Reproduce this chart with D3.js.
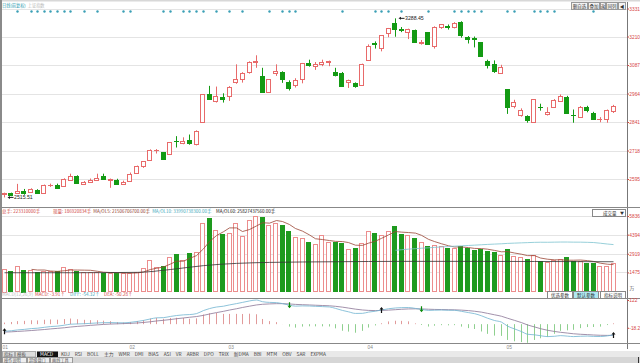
<!DOCTYPE html>
<meta charset="utf-8">
<style>
  html, body { margin: 0; padding: 0; background: #fff; }
  svg text { font-family: "Noto Sans CJK SC", "Noto Sans", sans-serif; }
  svg .num { font-family: "Liberation Sans", Arial, sans-serif; }
</style>
<script src="https://d3js.org/d3.v7.min.js"></script>
<div id="chart"></div>
<script>
// daily candles, 2019-01-07 .. 2019-05-28
const open  = [2528,2534,2535,2544,2540,2548,2536,2568,2570,2565,2594,2609,2574,2581,2592,2609,2590,2592,2576,
               2589,2621,2651,2677,2718,2711,2702,2757,2754,2762,2750,2838,2961,2934,2951,
               2954,3015,3028,3060,3103,3038,2970,3050,3058,3014,3001,3026,3097,3083,3094,3100,3058,3053,3015,3010,3000,
               3111,3180,3160,3224,3268,3244,3230,3240,3184,3229,3170,3252,3256,3252,3273,3206,3205,3186,3105,3091,3052,
               2983,2910,2872,2867,2840,2905,2876,2906,2932,2949,2872,2863,2906,2880,2852,2854,2888];
const high  = [2536,2536,2574,2552,2555,2551,2571,2575,2575,2598,2618,2611,2586,2597,2618,2618,2597,2596,2588,
               2623,2653,2672,2723,2724,2711,2754,2780,2775,2787,2805,2961,2997,2994,2965,
               2996,3090,3056,3103,3129,3075,3026,3090,3060,3021,3030,3096,3110,3100,3110,3106,3075,3057,3024,3012,3093,
               3176,3189,3216,3247,3288.45,3251,3244,3240,3195,3229,3254,3264,3262,3272,3276,3212,3210,3186,3110,3107,3088,
               2983,2937,2900,2870,2940,2920,2905,2940,2960,2954,2895,2910,2911,2885,2862,2895,2915];
const low   = [2515.51,2521,2532,2527,2536,2533,2534,2561,2553,2565,2590,2578,2571,2578,2588,2594,2557,2573,2571,
               2589,2618,2643,2677,2705,2680,2702,2731,2745,2743,2740,2838,2937,2925,2925,
               2932,3006,3011,3050,3075,2969,2969,3040,3010,2977,2990,3008,3080,3066,3082,3082,3038,2995,2988,2989,2998,
               3111,3158,3146,3207,3209,3229,3199,3185,3175,3175,3158,3243,3240,3245,3205,3180,3163,3122,3072,3053,3050,
               2876,2900,2864,2838,2838,2890,2869,2904,2930,2878,2838,2860,2883,2850,2840,2838,2880];
const close = [2533,2526,2544,2535,2553,2535,2570,2570,2559,2596,2610,2579,2581,2591,2601,2596,2594,2575,2584,
               2618,2653,2671,2721,2719,2682,2754,2755,2761,2751,2804,2961,2941,2954,2941,
               2994,3027,3054,3102,3106,2969,3026,3060,3026,2990,3022,3096,3090,3090,3101,3104,3043,2997,3022,2995,3090,
               3170,3176,3216,3246,3244,3239,3241,3189,3188,3177,3253,3263,3250,3270,3215,3198,3201,3124,3086,3062,3078,
               2906,2926,2893,2850,2939,2903,2883,2938,2955,2882,2870,2905,2891,2852,2853,2892,2910];
const volume = [1760,1550,1940,1680,1630,1500,1550,1550,1550,1885,1760,1550,1500,1500,1500,1420,1420,1420,1420,
                1420,1500,1780,2400,1860,1940,2635,2870,2400,2945,3020,5270,5660,4730,4420,
                4500,5270,4260,5500,5810,5735,5115,5270,5115,4650,4185,4110,3800,3640,4340,3800,3800,3720,3255,3330,3720,
                4650,4495,4340,4650,5040,4420,4340,4110,3800,3490,3565,3490,3330,3330,3490,3330,3180,3255,3100,3020,2790,
                3255,2710,2635,2480,2790,2325,2250,2400,2480,2635,2325,2325,2170,2170,1940,1940,2170];
// slow black volume line at a few days
const mavolSlowIdx = [0, 10, 20, 25, 30, 40, 50, 60, 70, 80, 92];
const mavolSlow    = [1450, 1450, 1480, 1700, 2000, 2250, 2300, 2330, 2330, 2320, 2300];

const monthStarts = [0, 19, 34, 55, 76];
const monthLabels = ['01', '02', '03', '04', '05'];
const priceTicks = [2595, 2718, 2841, 2964, 3087, 3210, 3331];
const volTicks = [1475, 2919, 4394, 5836];
const macdTicks = [122, -18.2];
const eventDays = [2,4,5,6,7,8,9,10,12,14,18,19,24,25,27,28,29,30,32,34,36,40,42,43,44,
                   51,56,57,58,60,64,68,69,70,71,72,76,77,80,81,82,83,89];
const signals = [{i: 0, t: 'b'}, {i: 43, t: 's'}, {i: 57, t: 'b'}, {i: 63, t: 's'}, {i: 92, t: 'b'}];
const tabs = ['KDJ','RSI','BOLL','主力','WMR','DMI','BIAS','ASI','VR','ARBR','DPO','TRIX','新DMA','BBI','MTM','OBV','SAR','EXPMA'];

const n = close.length;
const UP = '#e86a6a', DOWN = '#139a13', GRID = '#e4e4e4', AXISTXT = '#d64545';

const svg = d3.select('#chart').append('svg').attr('width', 640).attr('height', 363);

const x = d3.scaleBand().domain(d3.range(n)).range([0.8, 616.5]).paddingInner(0.25).paddingOuter(0.125);
const bw = x.bandwidth();
const cx = i => Math.round(x(i) + bw / 2) + 0.5;
const yP = d3.scaleLinear().domain([2595, 3331]).range([179, 8.5]);
const yV = d3.scaleLinear().domain([0, 5836]).range([291.5, 216]);
const yM = d3.scaleLinear().domain([-80, 122]).range([340, 300]);

// write a row of texts left to right, never letting one run into the next
function textRow(items, y, size) {
  let end = -Infinity;
  items.forEach(d => {
    const el = svg.append('text').attr('x', Math.max(d.x, end + 2)).attr('y', y)
      .attr('fill', d.c).style('font-size', size + 'px').text(d.t);
    end = +el.attr('x') + el.node().getComputedTextLength();
  });
}

// frame
svg.append('rect').attr('x', 0).attr('y', 0).attr('width', 640).attr('height', 1.5).attr('fill', '#d8d8d8');
svg.append('rect').attr('x', 0).attr('y', 0).attr('width', 2).attr('height', 363).attr('fill', '#8a8a8a');
svg.append('line').attr('x1', 627.5).attr('x2', 627.5).attr('y1', 2).attr('y2', 349).attr('stroke', '#777');
[207.5, 298.5, 343.5].forEach(yy =>
  svg.append('line').attr('x1', 2).attr('x2', 640).attr('y1', yy).attr('y2', yy).attr('stroke', '#888'));

// gridlines
svg.append('g').selectAll('line').data(priceTicks).join('line')
  .attr('x1', 2).attr('x2', 627).attr('y1', d => Math.round(yP(d)) + 0.5).attr('y2', d => Math.round(yP(d)) + 0.5)
  .attr('stroke', GRID);
svg.append('g').selectAll('line').data(volTicks).join('line')
  .attr('x1', 2).attr('x2', 627).attr('y1', d => Math.round(yV(d)) + 0.5).attr('y2', d => Math.round(yV(d)) + 0.5)
  .attr('stroke', GRID);

// axes on the right
function styleAxis(g) {
  g.select('.domain').remove();
  g.selectAll('line').attr('stroke', AXISTXT);
  g.selectAll('text').attr('class', 'num').attr('fill', AXISTXT).style('font-size', '4.8px').attr('x', 1.8);
}
svg.append('g').attr('transform', 'translate(627.5,0)')
  .call(d3.axisRight(yP).tickValues(priceTicks).tickSize(1.5).tickFormat(d3.format('d'))).call(styleAxis);
svg.append('g').attr('transform', 'translate(627.5,0)')
  .call(d3.axisRight(yV).tickValues(volTicks).tickSize(1.5).tickFormat(d3.format('d'))).call(styleAxis);
svg.append('g').attr('transform', 'translate(627.5,0)')
  .call(d3.axisRight(yM).tickValues(macdTicks).tickSize(1.5).tickFormat(d => String(d))).call(styleAxis);
svg.append('text').attr('x', 629.5).attr('y', 290).attr('fill', '#555').style('font-size', '4.8px').text('万');

// top title
textRow([{t: '日线(前复权)', c: '#2a9bb0', x: 2}, {t: '上证指数', c: '#b8b8b8', x: 25}], 6.5, 4.2);

// buttons top right
const topBtns = [['删自选', 17], ['叠加', 12], ['返', 6], ['同列', 12], ['◀', 8]];
let bx = 571;
topBtns.forEach(([t, w]) => {
  svg.append('rect').attr('x', bx + 0.5).attr('y', 2.5).attr('width', w - 1).attr('height', 7)
    .attr('fill', '#f4f4f4').attr('stroke', '#999');
  svg.append('text').attr('x', bx + w / 2).attr('y', 7.8).attr('text-anchor', 'middle')
    .attr('fill', '#333').style('font-size', '4.5px').text(t);
  bx += w;
});

// event dots
svg.append('g').selectAll('circle').data(eventDays).join('circle')
  .attr('cx', i => cx(i)).attr('cy', 11.5).attr('r', 1.2).attr('fill', '#3a9fb5');

// candles
const isUp = i => close[i] >= open[i];
const cg = svg.append('g');
cg.selectAll('line').data(d3.range(n)).join('line')
  .attr('x1', cx).attr('x2', cx).attr('y1', i => yP(high[i])).attr('y2', i => yP(low[i]))
  .attr('stroke', i => isUp(i) ? UP : DOWN);
cg.selectAll('rect').data(d3.range(n)).join('rect')
  .attr('x', i => Math.round(x(i)) + 0.5)
  .attr('width', Math.round(bw) - 1)
  .attr('y', i => Math.round(yP(Math.max(open[i], close[i]))) + 0.5)
  .attr('height', i => Math.max(0.01, Math.round(Math.abs(yP(open[i]) - yP(close[i])))))
  .attr('fill', i => isUp(i) ? '#fff' : DOWN)
  .attr('stroke', i => isUp(i) ? UP : DOWN);

// extreme markers
const iMax = d3.maxIndex(high), iMin = d3.minIndex(low);
function marker(i, v) {
  const px = cx(i) + 3, py = yP(v);
  svg.append('path').attr('d', `M${px},${py}l2.5,-1.5v3z`).attr('fill', '#222');
  svg.append('line').attr('x1', px + 2).attr('x2', px + 6).attr('y1', py).attr('y2', py).attr('stroke', '#222');
  svg.append('text').attr('class', 'num').attr('x', px + 6.5).attr('y', py + 2).attr('fill', '#222')
    .style('font-size', '5.2px').text(d3.format('.2f')(v));
}
marker(iMax, high[iMax]);
marker(iMin, low[iMin]);

// volume panel
textRow([
  {t: '总手: 223310000手', c: '#d04545', x: 2},
  {t: '现量: 186920834手', c: '#d04545', x: 53},
  {t: 'MA/OL5: 21506706700.00手', c: '#8f3c2c', x: 86},
  {t: 'MA/OL10: 33990738300.00手', c: '#3fa8ba', x: 150},
  {t: 'MA/OL60: 25827437560.00手', c: '#111', x: 216}
], 213, 4.5);
svg.append('rect').attr('x', 592.5).attr('y', 209.5).attr('width', 33).attr('height', 7)
  .attr('fill', '#fff').attr('stroke', '#888');
svg.append('text').attr('x', 603).attr('y', 214.8).attr('fill', '#333').style('font-size', '4.5px').text('成交量');
svg.append('text').attr('x', 620).attr('y', 214.8).attr('fill', '#333').style('font-size', '4px').text('▼');

svg.append('g').selectAll('rect').data(d3.range(n)).join('rect')
  .attr('x', i => Math.round(x(i)) + 0.5)
  .attr('width', Math.round(bw) - 1)
  .attr('y', i => Math.round(yV(volume[i])) + 0.5)
  .attr('height', i => Math.round(yV(0) - yV(volume[i])))
  .attr('fill', i => isUp(i) ? '#fff' : '#1e9a1e')
  .attr('stroke', i => isUp(i) ? '#ec8d8d' : '#1e9a1e');

function movingAvg(arr, k) {
  return arr.map((_, i) => i < k - 1 ? null : d3.mean(arr.slice(i - k + 1, i + 1)));
}
const ma5 = movingAvg(volume, 5);
const ma60 = movingAvg(volume, 60);
const vline = d3.line().defined(d => d[1] != null).x(d => cx(d[0])).y(d => yV(d[1]));
svg.append('path').attr('d', vline(ma5.map((v, i) => [i, v]))).attr('fill', 'none').attr('stroke', '#9b4535').attr('stroke-width', 0.8);
svg.append('path').attr('d', vline(ma60.map((v, i) => [i, v]))).attr('fill', 'none').attr('stroke', '#7cc3cf').attr('stroke-width', 0.8);
svg.append('path').attr('d', vline.curve(d3.curveMonotoneX)(mavolSlowIdx.map((d, k) => [d, mavolSlow[k]])))
  .attr('fill', 'none').attr('stroke', '#333').attr('stroke-width', 0.8);

// indicator buttons
const indBtns = [['优选参数', 547, '#fff'], ['默认参数', 573, '#aee8f2'], ['指标说明', 600, '#fff']];
indBtns.forEach(([t, bxx, f]) => {
  svg.append('rect').attr('x', bxx + 0.5).attr('y', 291.5).attr('width', 25).attr('height', 7)
    .attr('fill', f).attr('stroke', '#888');
  svg.append('text').attr('x', bxx + 13).attr('y', 296.8).attr('text-anchor', 'middle')
    .attr('fill', '#333').style('font-size', '4.5px').text(t);
});

// MACD
const dif = [], dea = [], macd = [];
let ef = 2521, es = 2561, de = -41;   // state carried in from the days before the window
close.forEach(c => {
  ef = ef * 11 / 13 + c * 2 / 13;
  es = es * 25 / 27 + c * 2 / 27;
  const df = ef - es;
  de = de * 8 / 10 + df * 2 / 10;
  dif.push(df); dea.push(de); macd.push(2 * (df - de));
});
textRow([
  {t: 'MACD(12,26,9)', c: '#c0c0c0', x: 2},
  {t: 'MACD: -3.91↑', c: '#d04545', x: 35},
  {t: 'DIFF: -54.32↑', c: '#3fa8ba', x: 70},
  {t: 'DEA: -50.28↑', c: '#d04545', x: 104}
], 296, 4.6);

svg.append('g').selectAll('line').data(d3.range(n)).join('line')
  .attr('x1', cx).attr('x2', cx).attr('y1', yM(0)).attr('y2', i => yM(macd[i]))
  .attr('stroke', i => macd[i] >= 0 ? '#d98080' : '#72c472').attr('stroke-width', 0.8);
const mline = d3.line().x((d, i) => cx(i)).y(d => yM(d)).curve(d3.curveMonotoneX);
svg.append('path').attr('d', mline(dea)).attr('fill', 'none').attr('stroke', '#8a7595').attr('stroke-width', 0.8);
svg.append('path').attr('d', mline(dif)).attr('fill', 'none').attr('stroke', '#70b4d0').attr('stroke-width', 0.8);

svg.append('g').selectAll('path').data(signals).join('path')
  .attr('d', s => {
    const px = cx(s.i), py = yM(dif[s.i]);
    return s.t === 'b'
      ? `M${px},${py - 3}l-2,2.5h1.4v3.5h1.2v-3.5h1.4z`
      : `M${px},${py + 3}l-2,-2.5h1.4v-3.5h1.2v3.5h1.4z`;
  })
  .attr('fill', s => s.t === 'b' ? '#111' : '#0a8a0a');

// month labels
svg.append('g').selectAll('text').data(monthStarts).join('text')
  .attr('class', 'num')
  .attr('x', (d, k) => k === 0 ? 2.5 : cx(d) - 1).attr('y', 349).attr('fill', '#888').style('font-size', '4.8px')
  .text((d, k) => monthLabels[k]);

// tab strip
svg.append('rect').attr('x', 2).attr('y', 351).attr('width', 638).attr('height', 6).attr('fill', '#e9e9e9');
svg.append('rect').attr('x', 2).attr('y', 357).attr('width', 638).attr('height', 6).attr('fill', '#d6d6d6');
[['指标', 2, 12], ['模板', 15, 20]].forEach(([t, tx, w]) => {
  svg.append('rect').attr('x', tx + 0.5).attr('y', 351.5).attr('width', w).attr('height', 5.5)
    .attr('fill', '#ddd').attr('stroke', '#aaa');
  svg.append('text').attr('x', tx + 2).attr('y', 356).attr('fill', '#555').style('font-size', '4.5px').text(t);
});
svg.append('rect').attr('x', 37).attr('y', 351.5).attr('width', 21).attr('height', 6).attr('fill', '#111');
svg.append('text').attr('x', 40).attr('y', 356.3).attr('fill', '#fff').style('font-size', '4.8px').text('MACD');
let tx = 61;
tabs.forEach(t => {
  const el = svg.append('text').attr('x', tx).attr('y', 356.3).attr('fill', '#444').style('font-size', '4.8px').text(t);
  tx += el.node().getComputedTextLength() + 5;
});
[['操作说明', 2, 24], ['超级盘口', 27, 22], ['画线工具', 50, 22]].forEach(([t, bx2, w]) => {
  svg.append('rect').attr('x', bx2 + 0.5).attr('y', 357.5).attr('width', w).attr('height', 5.5)
    .attr('fill', '#eee').attr('stroke', '#999');
  svg.append('text').attr('x', bx2 + 2).attr('y', 362).attr('fill', '#555').style('font-size', '4.2px').text(t);
});
svg.append('line').attr('x1', 638.5).attr('x2', 638.5).attr('y1', 357).attr('y2', 363).attr('stroke', '#333');
</script>
